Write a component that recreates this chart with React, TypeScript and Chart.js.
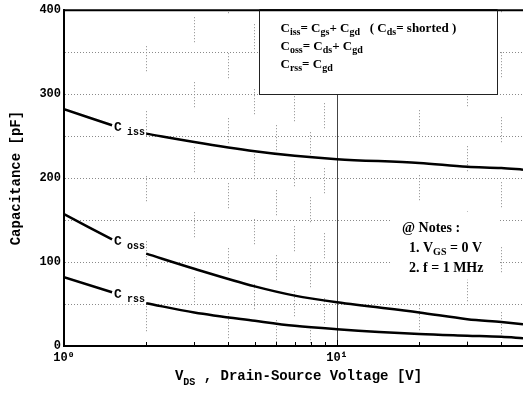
import React, { useEffect, useRef } from 'react';
import { Chart, registerables } from 'chart.js';

Chart.register(...registerables);

// ---- data ----
const VDS = [1, 1.5, 1.75, 2, 3, 5, 7, 10, 20, 30, 40, 48];
const CISS = [282, 263, null, 253, 243, 232, 226.5, 222.5, 218, 213.5, 212, 210];
const COSS = [157, 127, null, 110, 92, 71, 60, 52, 40, 32, 28.5, 26];
const CRSS = [82, 64, null, 51, 40, 30, 24, 20, 14.3, 12.3, 11, 9.3];

const X_MIN = 1;
const X_MAX = 48;
const X_TICKS = [1, 2, 3, 4, 5, 6, 7, 8, 9, 10, 20, 30, 40];
const X_TICK_LABELS: Record<number, string> = { 1: '10⁰', 10: '10¹' };
const Y_MIN = 0;
const Y_MAX = 400;
const Y_STEP = 50;
const Y_LABEL_EVERY = 100;

const Y_TITLE = 'Capacitance [pF]';
type Seg = { t: string; sub?: boolean };
const X_TITLE: Seg[] = [{ t: 'V' }, { t: 'DS', sub: true }, { t: ' , Drain-Source Voltage [V]' }];

const CURVE_NAMES = ['iss', 'oss', 'rss'];
const LABEL_GAP_FROM = 1.5;
const LABEL_GAP_TO = 2;

const BOX_LINES: Seg[][] = [
  [{ t: 'C' }, { t: 'iss', sub: true }, { t: '= ' }, { t: 'C' }, { t: 'gs', sub: true }, { t: '+ ' }, { t: 'C' }, { t: 'gd', sub: true }, { t: '   ( ' }, { t: 'C' }, { t: 'ds', sub: true }, { t: '= shorted )' }],
  [{ t: 'C' }, { t: 'oss', sub: true }, { t: '= ' }, { t: 'C' }, { t: 'ds', sub: true }, { t: '+ ' }, { t: 'C' }, { t: 'gd', sub: true }],
  [{ t: 'C' }, { t: 'rss', sub: true }, { t: '= ' }, { t: 'C' }, { t: 'gd', sub: true }],
];
const NOTE_LINES: Seg[][] = [
  [{ t: '@ Notes :' }],
  [{ t: '  1. V' }, { t: 'GS', sub: true }, { t: ' = 0 V' }],
  [{ t: '  2. f = 1 MHz' }],
];

// annotation placement in data coordinates
const BOX_X0 = 5.18;
const BOX_X1 = 38.5;
const BOX_Y_BOTTOM = 300;
const NOTE_BG_X0 = 15.9;
const NOTE_BG_X1 = 39.5;
const NOTE_BG_Y0 = 160;
const NOTE_BG_Y1 = 79;
const NOTE_X = 17.3;
const NOTE_Y = 136;

const MONO = "'Liberation Mono', monospace";
const SERIF = "'Liberation Serif', serif";

function drawRich(ctx: CanvasRenderingContext2D, x: number, y: number, segs: Seg[], main: string, sub: string, dy: number) {
  let cx = x;
  for (const s of segs) {
    ctx.font = s.sub ? sub : main;
    ctx.fillText(s.t, cx, y + (s.sub ? dy : 0));
    cx += ctx.measureText(s.t).width;
  }
  return cx - x;
}
function richWidth(ctx: CanvasRenderingContext2D, segs: Seg[], main: string, sub: string) {
  let w = 0;
  for (const s of segs) {
    ctx.font = s.sub ? sub : main;
    w += ctx.measureText(s.t).width;
  }
  return w;
}

const decor = {
  id: 'decor',
  afterDatasetsDraw(chart: any) {
    const { ctx, chartArea, scales } = chart;
    const x = scales.x;
    const y = scales.y;
    ctx.save();
    ctx.fillStyle = '#000';
    ctx.textBaseline = 'alphabetic';
    ctx.textAlign = 'left';

    // top frame line
    ctx.strokeStyle = '#000';
    ctx.lineWidth = 2;
    ctx.beginPath();
    ctx.moveTo(chartArea.left - 1, chartArea.top);
    ctx.lineTo(chartArea.right, chartArea.top);
    ctx.stroke();

    // inward ticks on x axis
    ctx.lineWidth = 1;
    for (const v of X_TICKS) {
      if (v === X_MIN) continue;
      const px = Math.round(x.getPixelForValue(v)) + 0.5;
      ctx.beginPath();
      ctx.moveTo(px, chartArea.bottom - 1);
      ctx.lineTo(px, chartArea.bottom - (v === 10 ? 6 : 4));
      ctx.stroke();
    }

    // curve labels
    const series = [CISS, COSS, CRSS];
    const gx0 = x.getPixelForValue(LABEL_GAP_FROM);
    const gx1 = x.getPixelForValue(LABEL_GAP_TO);
    series.forEach((data, i) => {
      const yEnd = y.getPixelForValue(data[1] as number);
      ctx.fillStyle = '#fff';
      ctx.fillRect(gx0 + 1.5, yEnd - 7, gx1 - gx0 - 3, 19);
      ctx.fillStyle = '#000';
      ctx.font = 'bold 13px ' + MONO;
      ctx.fillText('C', gx0 + 2, yEnd + 6);
      ctx.font = 'bold 10px ' + MONO;
      ctx.fillText(CURVE_NAMES[i], gx0 + 15, yEnd + 10);
    });

    // formula box
    const bl = Math.round(x.getPixelForValue(BOX_X0)) + 0.5;
    const br = Math.round(x.getPixelForValue(BOX_X1)) + 0.5;
    const bt = chartArea.top;
    const bb = Math.round(y.getPixelForValue(BOX_Y_BOTTOM)) + 0.5;
    ctx.fillStyle = '#fff';
    ctx.fillRect(bl, bt, br - bl, bb - bt);
    ctx.strokeStyle = '#222';
    ctx.lineWidth = 1;
    ctx.strokeRect(bl, bt, br - bl, bb - bt);
    ctx.strokeStyle = '#000';
    ctx.lineWidth = 2;
    ctx.beginPath();
    ctx.moveTo(bl, bt);
    ctx.lineTo(br, bt);
    ctx.stroke();
    ctx.fillStyle = '#000';
    BOX_LINES.forEach((segs, i) => {
      drawRich(ctx, bl + 21, bt + 22 + i * 18, segs, 'bold 13px ' + SERIF, 'bold 10px ' + SERIF, 3);
    });

    // notes
    const nx0 = x.getPixelForValue(NOTE_BG_X0);
    const nx1 = x.getPixelForValue(NOTE_BG_X1);
    const ny0 = y.getPixelForValue(NOTE_BG_Y0);
    const ny1 = y.getPixelForValue(NOTE_BG_Y1);
    ctx.fillStyle = '#fff';
    ctx.fillRect(nx0, ny0, nx1 - nx0, ny1 - ny0);
    ctx.fillStyle = '#000';
    const nx = x.getPixelForValue(NOTE_X);
    const ny = y.getPixelForValue(NOTE_Y);
    NOTE_LINES.forEach((segs, i) => {
      drawRich(ctx, nx, ny + i * 20, segs, 'bold 14px ' + SERIF, 'bold 10px ' + SERIF, 3);
    });

    // x axis title
    const main = 'bold 14px ' + MONO;
    const sub = 'bold 10px ' + MONO;
    const w = richWidth(ctx, X_TITLE, main, sub);
    const cx = (chartArea.left + chartArea.right) / 2 + 5 - w / 2;
    drawRich(ctx, cx, chartArea.bottom + 34, X_TITLE, main, sub, 5);

    ctx.restore();
  },
};

export default function App() {
  const ref = useRef<HTMLCanvasElement | null>(null);
  useEffect(() => {
    if (!ref.current) return;
    const mk = (vals: (number | null)[]) => VDS.map((v, i) => ({ x: v, y: vals[i] }));
    const ds = (label: string, vals: (number | null)[]) => ({
      label,
      data: mk(vals),
      borderColor: '#000',
      backgroundColor: '#000',
      borderWidth: 2.5,
      pointRadius: 0,
      cubicInterpolationMode: 'monotone' as const,
      spanGaps: false,
    });
    const chart = new Chart(ref.current, {
      type: 'line',
      data: { datasets: [ds('Ciss', CISS), ds('Coss', COSS), ds('Crss', CRSS)] as any },
      options: {
        animation: false,
        responsive: false,
        devicePixelRatio: 1,
        layout: { padding: { top: 10, left: 0, right: 0, bottom: 0 } },
        plugins: { legend: { display: false }, tooltip: { enabled: false } },
        scales: {
          x: {
            type: 'logarithmic',
            min: X_MIN,
            max: X_MAX,
            afterBuildTicks: (s: any) => {
              s.ticks = X_TICKS.map((v) => ({ value: v }));
            },
            afterFit: (s: any) => {
              s.height = 50;
            },
            ticks: {
              autoSkip: false,
              maxRotation: 0,
              padding: 5,
              color: '#000',
              font: { family: MONO, size: 12, weight: 'bold' },
              callback: (v: any) => X_TICK_LABELS[Number(v)] ?? '',
            },
            grid: {
              drawTicks: false,
              color: (c: any) => (c.tick && c.tick.value === 10 ? '#444' : '#8a8a8a'),
              lineWidth: 1,
            },
            border: {
              display: true,
              color: '#000',
              width: 2,
              dash: (c: any) => (c.tick && c.tick.value === 10 ? [] : [1, 2, 1, 2, 1, 2, 1, 2, 1, 2, 1, 2, 1, 2, 1, 2, 1, 40]),
              dashOffset: (c: any) => ((c.index || 0) * 29) % 65,
            },
          },
          y: {
            type: 'linear',
            min: Y_MIN,
            max: Y_MAX,
            afterFit: (s: any) => {
              s.width = 64;
            },
            ticks: {
              stepSize: Y_STEP,
              padding: 3,
              color: '#000',
              font: { family: MONO, size: 12, weight: 'bold' },
              callback: (v: any) => (Number(v) % Y_LABEL_EVERY === 0 ? String(v) : ''),
            },
            grid: { drawTicks: false, color: '#8a8a8a', lineWidth: 1 },
            border: { display: true, color: '#000', width: 2, dash: [1, 2] },
            title: {
              display: true,
              text: Y_TITLE,
              color: '#000',
              font: { family: MONO, size: 14, weight: 'bold' },
              padding: { top: 8, bottom: 0 },
            },
          },
        },
      },
      plugins: [decor],
    });
    return () => chart.destroy();
  }, []);
  return (
    <div style={{ position: 'fixed', left: 0, top: 0, width: 523, height: 396, background: '#fff' }}>
      <canvas ref={ref} width={523} height={396} style={{ display: 'block', width: 523, height: 396 }} />
    </div>
  );
}
